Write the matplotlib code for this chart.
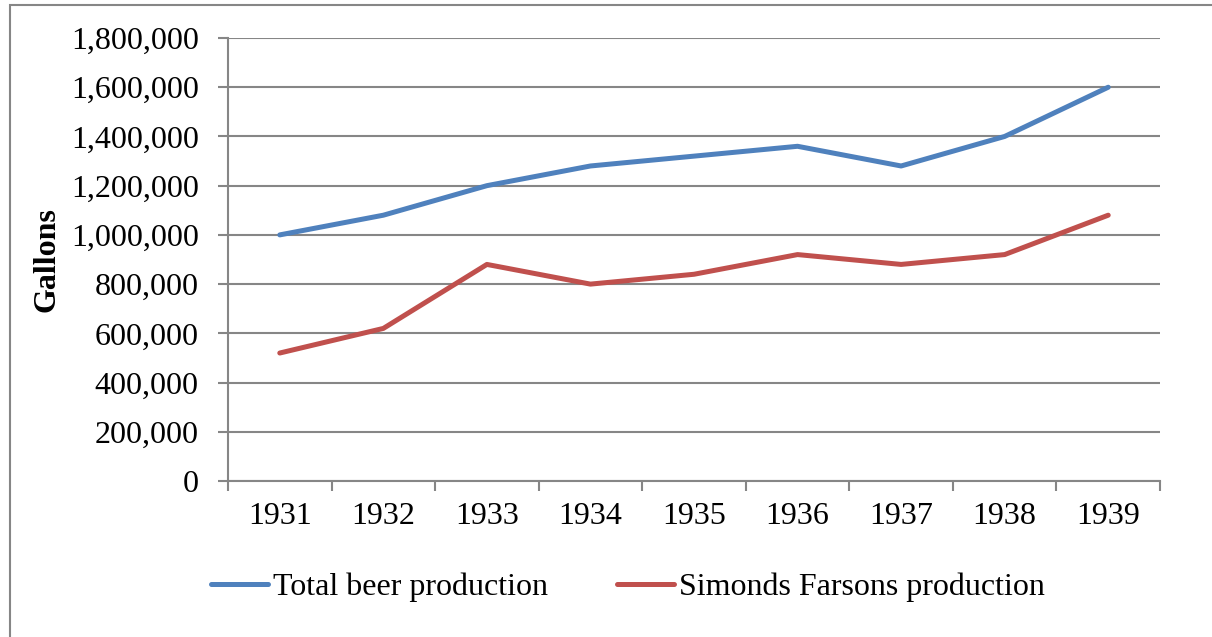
import matplotlib.pyplot as plt, numpy as np
from matplotlib.patches import Rectangle
from matplotlib.ticker import FuncFormatter, FixedLocator

plt.rcParams['font.family'] = ['Liberation Serif', 'DejaVu Serif']

# Data
years = ['1931', '1932', '1933', '1934', '1935', '1936', '1937', '1938', '1939']
total = [1000000, 1080000, 1200000, 1280000, 1320000, 1360000, 1280000, 1400000, 1600000]
simonds = [520000, 620000, 880000, 800000, 840000, 920000, 880000, 920000, 1080000]
labels = ['Total beer production', 'Simonds Farsons production']

grey = '#868686'
fs = 23

fig = plt.figure(figsize=(12.12, 6.37), dpi=100)
ax = fig.add_axes([228/1212, 1-481/637, (1160-228)/1212, (481-38)/637])

x = np.arange(len(years))
ax.plot(x, total, color='#4F81BD', linewidth=3.6, solid_capstyle='round', label=labels[0])
ax.plot(x, simonds, color='#C0504D', linewidth=3.6, solid_capstyle='round', label=labels[1])

ax.set_xlim(-0.5, len(years) - 0.5)
ax.set_ylim(0, 1800000)
ax.set_yticks(np.arange(0, 1800001, 200000))
ax.yaxis.set_major_formatter(FuncFormatter(lambda v, p: f'{int(v):,}'))
ax.yaxis.grid(True, color=grey, linewidth=1.5)
ax.set_axisbelow(True)

# category ticks at boundaries, labels at centres
ax.xaxis.set_major_locator(FixedLocator(np.arange(-0.5, len(years), 1.0)))
ax.xaxis.set_major_formatter(FuncFormatter(lambda v, p: ''))
ax.set_xticks(x, minor=True)
ax.set_xticklabels(years, minor=True)
ax.tick_params(axis='x', which='major', length=7, width=1.5, color=grey, direction='out')
ax.tick_params(axis='x', which='minor', length=0, pad=15, labelsize=fs)
ax.tick_params(axis='y', length=7, width=1.5, color=grey, direction='out', labelsize=fs, pad=14)

for s in ['top', 'right']:
    ax.spines[s].set_visible(False)
for s in ['left', 'bottom']:
    ax.spines[s].set_color(grey)
    ax.spines[s].set_linewidth(1.5)

ax.set_ylabel('Gallons', fontsize=fs, fontweight='bold', labelpad=7)

leg = fig.legend(loc='center', bbox_to_anchor=(0.518, 1-587/637), ncol=2, frameon=False,
                 fontsize=fs, handlelength=1.8, handletextpad=0.15, columnspacing=2.15)

# outer chart frame
fig.patches.append(Rectangle((10/1212, -0.1), 1.2, 1-5/637+0.1, transform=fig.transFigure,
                             fill=False, edgecolor=grey, linewidth=1.5))

fig.savefig('out.png', dpi=100)
